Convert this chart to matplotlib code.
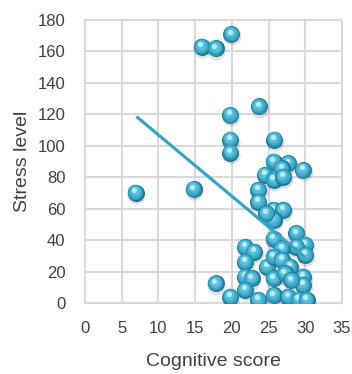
import numpy as np
import matplotlib
matplotlib.use('Agg')
import matplotlib.pyplot as plt

# waarden
cognitive = [6.9, 14.8, 15.9, 17.8, 19.9, 19.8, 23.7, 19.8, 19.8, 25.8,
             25.7, 27.7, 29.7, 26.8, 24.5, 25.7, 27.0,
             23.6, 23.6, 25.7, 27.0, 25.7, 24.7,
             25.7, 28.8, 30.0, 28.8, 30.0, 26.8,
             21.8, 23.0, 21.8, 24.8, 25.7, 26.8, 27.9,
             21.8, 22.7, 25.7, 27.2, 29.7, 29.7, 28.1, 17.8,
             21.8, 19.8, 23.6, 25.7, 27.7, 29.1, 30.2]
stress = [70, 72.5, 163, 162, 171, 119.6, 125, 104, 95.7, 104,
          90, 89, 84.6, 85.7, 81.5, 78.3, 80.4,
          72, 64.5, 59.2, 59.2, 52.8, 57,
          41, 44.4, 37, 35.8, 30.6, 34.8,
          35.8, 32.7, 26.3, 23, 29.5, 27.4, 23,
          16.7, 15.7, 15.7, 18.8, 16.7, 11.5, 14.6, 12.5,
          8.3, 4, 2, 5, 4, 2, 2]

# trendlijn eindpunten
trend_x = [7, 30]
trend_y = [118.6, 29]

x_ticks = [0, 5, 10, 15, 20, 25, 30, 35]
y_ticks = [0, 20, 40, 60, 80, 100, 120, 140, 160, 180]

plt.rcParams['font.family'] = ['Liberation Sans', 'DejaVu Sans']

fig = plt.figure(figsize=(3.52, 3.74), dpi=100)
ax = fig.add_axes([0.2415, 0.1898, 0.7300, 0.7567])

grid_col = '#d9d9d9'
text_col = '#404040'
ax.set_xlim(0, 35)
ax.set_ylim(0, 180)
ax.set_xticks(x_ticks)
ax.set_yticks(y_ticks)
ax.grid(True, color=grid_col, linewidth=1.5)
ax.set_axisbelow(True)
for s in ax.spines.values():
    s.set_color(grid_col)
    s.set_linewidth(1.5)
ax.tick_params(length=0, labelsize=12, colors=text_col)
ax.tick_params(axis='y', pad=14)
ax.tick_params(axis='x', pad=13)

ax.plot(trend_x, trend_y, color='#3aa3c4', linewidth=2.3, zorder=10, solid_capstyle='butt')

x = np.array(cognitive)
y = np.array(stress)

# bollen: schaduw, donkere rand, lichtere lagen, glans
ax.scatter(x + 0.1, y - 1.4, s=170, color='#000000', alpha=0.12, linewidths=0, zorder=3)
for i in range(len(x)):
    z = 4 + i * 0.01
    ax.scatter(x[i], y[i], s=150, color='#1d7893', linewidths=0, zorder=z)
    ax.scatter(x[i] - 0.04, y[i] + 0.3, s=125, color='#2c93b3', linewidths=0, zorder=z + 0.001)
    ax.scatter(x[i] - 0.08, y[i] + 0.7, s=92, color='#3eabcb', linewidths=0, zorder=z + 0.002)
    ax.scatter(x[i] - 0.13, y[i] + 1.1, s=52, color='#58c0dc', linewidths=0, zorder=z + 0.003)
    ax.scatter(x[i] - 0.17, y[i] + 1.6, s=14, color='#b9ecf7', linewidths=0, zorder=z + 0.004)

ax.set_xlabel('Cognitive score', fontsize=14, labelpad=12, color=text_col)
ax.set_ylabel('Stress level', fontsize=14, labelpad=5, color=text_col)

fig.savefig('out.png', dpi=100)
